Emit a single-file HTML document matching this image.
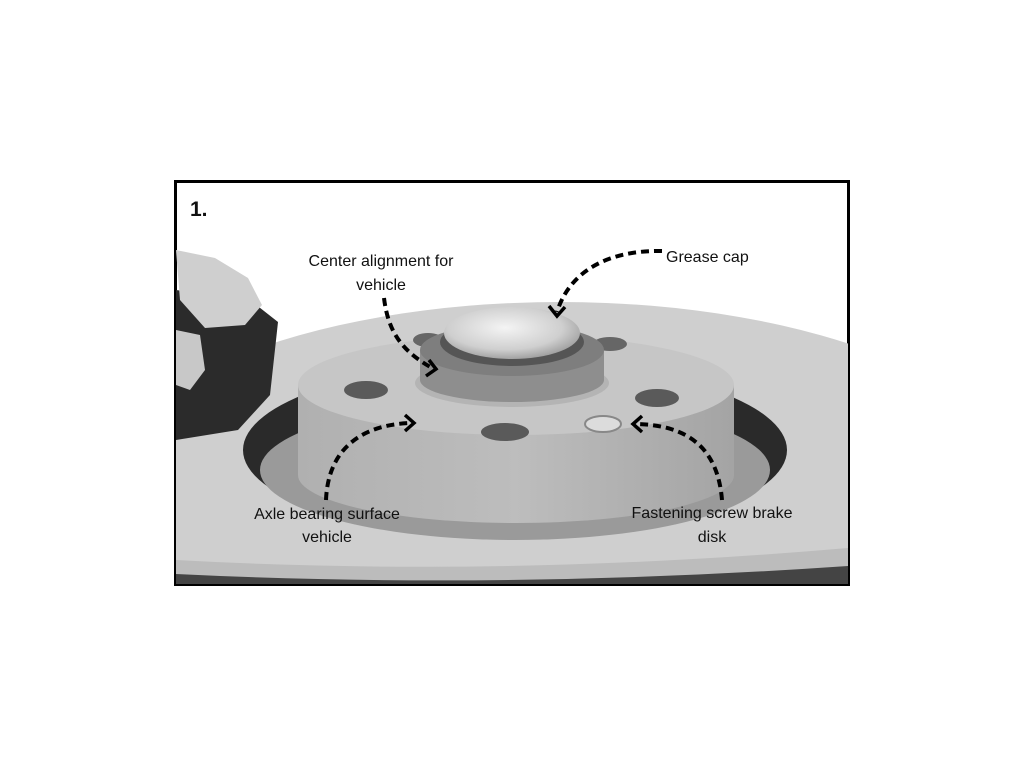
<!DOCTYPE html>
<html><head><meta charset="utf-8"><style>
html,body{margin:0;padding:0;background:#fff;width:1024px;height:768px;overflow:hidden}
svg{display:block}
text{font-family:"Liberation Sans",sans-serif;fill:#111}
</style></head><body>
<svg width="1024" height="768" viewBox="0 0 1024 768">
<defs>
<clipPath id="c"><rect x="176" y="182" width="672" height="402"/></clipPath>
<radialGradient id="cap" cx="0.45" cy="0.4" r="0.7"><stop offset="0" stop-color="#f4f4f4"/><stop offset="0.6" stop-color="#cfcfcf"/><stop offset="1" stop-color="#8a8a8a"/></radialGradient>
<linearGradient id="side" x1="0" x2="1"><stop offset="0" stop-color="#b0b0b0"/><stop offset="0.5" stop-color="#bdbdbd"/><stop offset="1" stop-color="#a4a4a4"/></linearGradient>
</defs>
<rect x="174" y="180" width="676" height="406" fill="#000"/>
<rect x="177" y="183" width="670" height="400" fill="#fff"/>
<g clip-path="url(#c)">
<!-- disc -->
<ellipse cx="560" cy="500" rx="470" ry="198" fill="#cfcfcf"/>
<path d="M176 572 Q500 590 848 560 L848 584 L176 584 Z" fill="#444"/>
<path d="M176 560 Q500 578 848 548 L848 566 Q500 590 176 574 Z" fill="#bcbcbc"/>
<!-- recess -->
<ellipse cx="515" cy="450" rx="272" ry="88" fill="#2a2a2a"/>
<ellipse cx="515" cy="470" rx="255" ry="70" fill="#9a9a9a"/>
<!-- spacer side -->
<path d="M298 385 L298 475 A218 48 0 0 0 734 475 L734 385 Z" fill="url(#side)"/>
<!-- spacer top -->
<ellipse cx="516" cy="385" rx="218" ry="50" fill="#c6c6c6"/>
<!-- holes -->
<ellipse cx="366" cy="390" rx="22" ry="9" fill="#5a5a5a"/>
<ellipse cx="505" cy="432" rx="24" ry="9" fill="#5a5a5a"/>
<ellipse cx="657" cy="398" rx="22" ry="9" fill="#5a5a5a"/>
<ellipse cx="428" cy="340" rx="15" ry="7" fill="#666"/>
<ellipse cx="610" cy="344" rx="17" ry="7" fill="#666"/>
<ellipse cx="603" cy="424" rx="18" ry="8" fill="#dcdcdc" stroke="#888" stroke-width="2"/>
<!-- hub -->
<ellipse cx="512" cy="383" rx="97" ry="24" fill="#b4b4b4"/>
<path d="M420 350 L420 380 A92 22 0 0 0 604 380 L604 350 Z" fill="#8e8e8e"/>
<ellipse cx="512" cy="350" rx="92" ry="26" fill="#7e7e7e"/>
<ellipse cx="512" cy="342" rx="72" ry="24" fill="#555"/>
<ellipse cx="512" cy="333" rx="68" ry="26" fill="url(#cap)"/>
<!-- caliper -->
<path d="M176 290 L250 300 L278 322 L270 395 L238 430 L176 440 Z" fill="#2b2b2b"/>
<path d="M176 250 L215 258 L248 278 L262 305 L245 325 L205 328 L180 300 Z" fill="#cfcfcf"/>
<path d="M176 330 L200 335 L205 370 L190 390 L176 385 Z" fill="#c8c8c8"/>
</g>
<!-- arrows -->
<g fill="none" stroke="#000" stroke-width="4" stroke-dasharray="8 5">
<path d="M384 298 C388 330 400 350 432 368"/>
<path d="M662 251 C610 250 570 270 557 312"/>
<path d="M326 500 C328 450 360 425 410 423"/>
<path d="M722 500 C718 450 690 425 636 424"/>
</g>
<g fill="none" stroke="#000" stroke-width="3.5">
<path d="M426 376 L436 369 L429 360"/>
<path d="M549 306 L557 316 L565 307"/>
<path d="M405 415 L414 423 L405 431"/>
<path d="M642 416 L633 424 L642 432"/>
</g>
<text x="190" y="216" font-size="21" font-weight="bold">1.</text>
<text x="381" y="266" font-size="16" text-anchor="middle">Center alignment for</text>
<text x="381" y="290" font-size="16" text-anchor="middle">vehicle</text>
<text x="666" y="262" font-size="16">Grease cap</text>
<text x="327" y="519" font-size="16" text-anchor="middle">Axle bearing surface</text>
<text x="327" y="542" font-size="16" text-anchor="middle">vehicle</text>
<text x="712" y="518" font-size="16" text-anchor="middle">Fastening screw brake</text>
<text x="712" y="542" font-size="16" text-anchor="middle">disk</text>
</svg>
</body></html>
